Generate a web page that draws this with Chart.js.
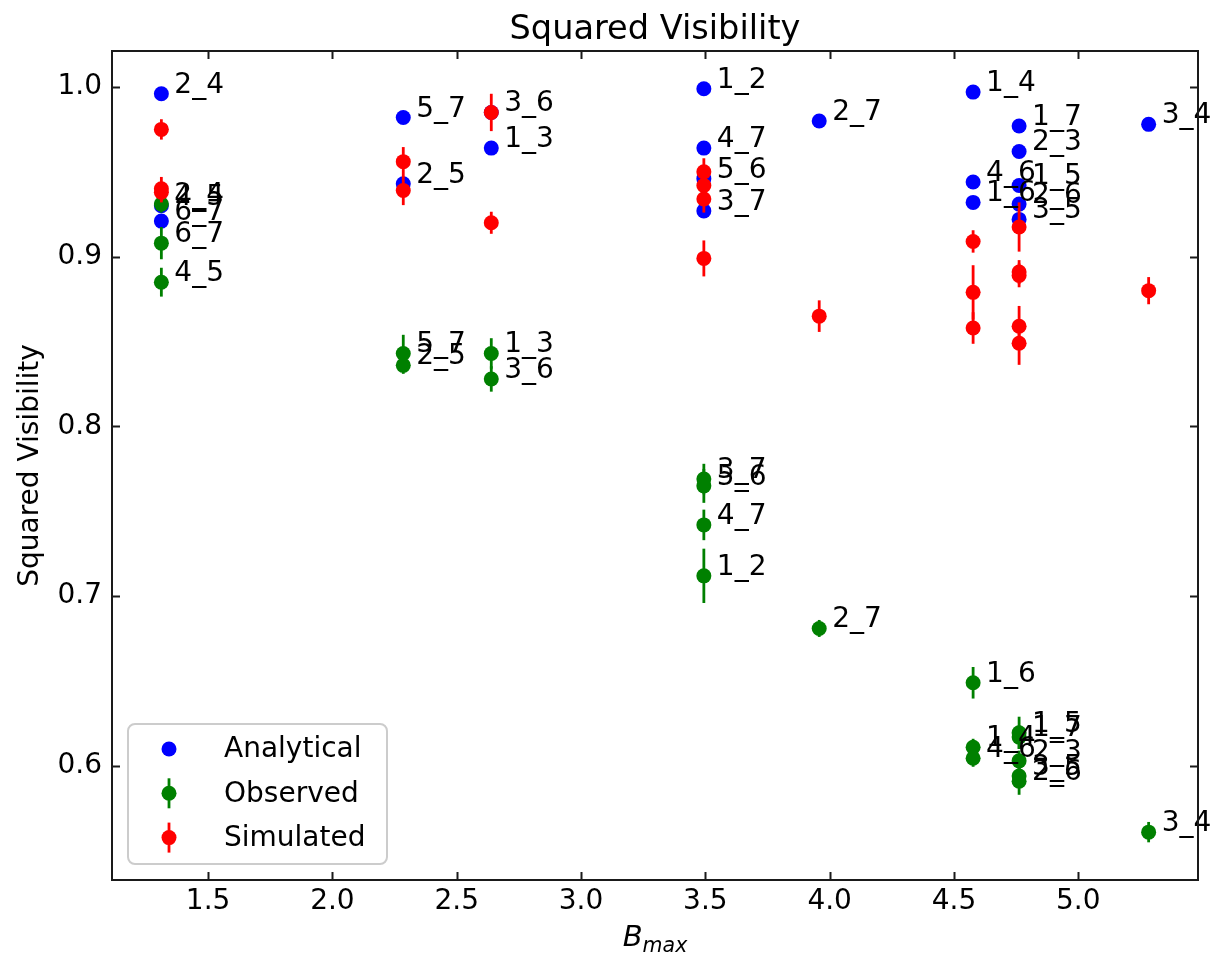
<!DOCTYPE html>
<html>
<head>
<meta charset="utf-8">
<title>Squared Visibility</title>
<script src="https://cdn.jsdelivr.net/npm/chart.js@4.4.1/dist/chart.umd.min.js"></script>
<style>
  html, body { margin: 0; padding: 0; background: #fff; }
  #wrap { width: 1216px; height: 957px; }
</style>
</head>
<body>
<div id="wrap"><canvas id="vis" width="1216" height="957"></canvas></div>
<script>
// one entry per baseline (telescope pair), grouped by B_max
const baselines    = ['2_4', '4_5', '6_7', '5_7', '2_5', '1_3', '3_6', '1_2', '4_7', '5_6', '3_7', '2_7', '1_4', '4_6', '1_6', '1_7', '2_3', '1_5', '2_6', '3_5', '3_4'];
const bmax         = [1.312, 1.312, 1.312, 2.285, 2.285, 2.639, 2.639, 3.494, 3.494, 3.494, 3.494, 3.958, 4.577, 4.577, 4.577, 4.762, 4.762, 4.762, 4.762, 4.762, 5.283];
const analytical   = [0.996, 0.930, 0.921, 0.982, 0.943, 0.964, 0.985, 0.999, 0.964, 0.946, 0.927, 0.980, 0.997, 0.944, 0.932, 0.977, 0.962, 0.942, 0.931, 0.922, 0.978];
const observed     = [0.931, 0.885, 0.908, 0.843, 0.836, 0.843, 0.828, 0.712, 0.742, 0.765, 0.769, 0.681, 0.611, 0.6045, 0.649, 0.617, 0.603, 0.6195, 0.591, 0.594, 0.561];
const observedErr  = [0.005, 0.0085, 0.0095, 0.011, 0.005, 0.009, 0.0075, 0.016, 0.009, 0.010, 0.009, 0.005, 0.005, 0.005, 0.0093, 0.007, 0.006, 0.0095, 0.008, 0.006, 0.006];
const simulated    = [0.975, 0.940, 0.938, 0.956, 0.939, 0.920, 0.985, 0.950, 0.942, 0.934, 0.899, 0.865, 0.909, 0.879, 0.858, 0.9175, 0.891, 0.889, 0.859, 0.849, 0.880];
const simulatedErr = [0.006, 0.007, 0.006, 0.0086, 0.0086, 0.0065, 0.011, 0.008, 0.007, 0.008, 0.0106, 0.0093, 0.0066, 0.016, 0.0093, 0.0145, 0.007, 0.007, 0.012, 0.0127, 0.008];

const xTicks = [1.5, 2.0, 2.5, 3.0, 3.5, 4.0, 4.5, 5.0];
const yTicks = [0.6, 0.7, 0.8, 0.9, 1.0];

const FONT = '"DejaVu Sans", Verdana, sans-serif';
const INK = '#1a1a1a';
const COLORS = { analytical: '#0000ff', observed: '#008000', simulated: '#ff0000' };

// axis limits padded by 5% of the data span, including error bars
function padded(lo, hi) {
  const m = (hi - lo) * 0.05;
  return [lo - m, hi + m];
}
const [xMin, xMax] = padded(Math.min(...bmax), Math.max(...bmax));
const allLow = observed.map((v, i) => v - observedErr[i]).concat(simulated.map((v, i) => v - simulatedErr[i]), analytical);
const allHigh = observed.map((v, i) => v + observedErr[i]).concat(simulated.map((v, i) => v + simulatedErr[i]), analytical);
const [yMin, yMax] = padded(Math.min(...allLow), Math.max(...allHigh));

function points(vals) {
  return bmax.map((b, i) => ({ x: b, y: vals[i] }));
}

const decor = {
  id: 'decor',
  // vertical error bars go under each series' own markers
  beforeDatasetDraw(chart, args) {
    const ds = chart.data.datasets[args.index];
    if (!ds.errors) return;
    const { x, y } = chart.scales;
    const ctx = chart.ctx;
    ctx.save();
    ctx.strokeStyle = ds.backgroundColor;
    ctx.lineWidth = 2.8;
    ds.data.forEach((p, i) => {
      const px = x.getPixelForValue(p.x);
      ctx.beginPath();
      ctx.moveTo(px, y.getPixelForValue(p.y - ds.errors[i]));
      ctx.lineTo(px, y.getPixelForValue(p.y + ds.errors[i]));
      ctx.stroke();
    });
    ctx.restore();
  },
  // baseline names beside the analytical and observed points
  afterDatasetsDraw(chart) {
    const { x, y } = chart.scales;
    const ctx = chart.ctx;
    ctx.save();
    ctx.font = '28px ' + FONT;
    ctx.fillStyle = '#000';
    ctx.textAlign = 'left';
    ctx.textBaseline = 'alphabetic';
    chart.data.datasets.forEach(ds => {
      if (!ds.named) return;
      ds.data.forEach((p, i) => {
        ctx.fillText(baselines[i], x.getPixelForValue(p.x) + 13, y.getPixelForValue(p.y) - 1);
      });
    });
    ctx.restore();
  },
  afterDraw(chart) {
    const { ctx, chartArea: a } = chart;
    const { x, y } = chart.scales;
    ctx.save();

    // frame + inward ticks on all four sides
    ctx.strokeStyle = INK;
    ctx.lineWidth = 2;
    ctx.strokeRect(a.left, a.top, a.right - a.left, a.bottom - a.top);
    ctx.beginPath();
    xTicks.forEach(v => {
      const px = Math.round(x.getPixelForValue(v)) + 0.5;
      ctx.moveTo(px, a.bottom); ctx.lineTo(px, a.bottom - 8);
      ctx.moveTo(px, a.top); ctx.lineTo(px, a.top + 8);
    });
    yTicks.forEach(v => {
      const py = Math.round(y.getPixelForValue(v)) + 0.5;
      ctx.moveTo(a.left, py); ctx.lineTo(a.left + 8, py);
      ctx.moveTo(a.right, py); ctx.lineTo(a.right - 8, py);
    });
    ctx.stroke();

    const cx = (a.left + a.right) / 2;

    // title
    ctx.fillStyle = '#000';
    ctx.textAlign = 'center';
    ctx.textBaseline = 'alphabetic';
    ctx.font = '33.6px ' + FONT;
    ctx.fillText('Squared Visibility', cx, 39);

    // x axis label: italic B with "max" subscript
    ctx.textAlign = 'left';
    ctx.font = 'italic 29px ' + FONT;
    const wB = ctx.measureText('B').width;
    ctx.font = 'italic 20.5px ' + FONT;
    const wSub = ctx.measureText('max').width;
    const x0 = cx - (wB + wSub) / 2;
    ctx.font = 'italic 29px ' + FONT;
    ctx.fillText('B', x0, 946);
    ctx.font = 'italic 20.5px ' + FONT;
    ctx.fillText('max', x0 + wB, 952);

    // legend box, lower left
    const lx = 128, ly = 724, lw = 259, lh = 140;
    ctx.beginPath();
    ctx.roundRect(lx, ly, lw, lh, 7);
    ctx.fillStyle = 'rgba(255,255,255,0.8)';
    ctx.fill();
    ctx.strokeStyle = '#cccccc';
    ctx.lineWidth = 2;
    ctx.stroke();

    ctx.font = '28px ' + FONT;
    ctx.textBaseline = 'middle';
    chart.data.datasets.forEach((ds, k) => {
      const ry = 749 + k * 44.3;
      const mx = 169;
      if (ds.errors) {
        ctx.strokeStyle = ds.backgroundColor;
        ctx.lineWidth = 2.8;
        ctx.beginPath();
        ctx.moveTo(mx, ry - 15); ctx.lineTo(mx, ry + 15);
        ctx.stroke();
      }
      ctx.fillStyle = ds.backgroundColor;
      ctx.beginPath();
      ctx.arc(mx, ry, 7.5, 0, Math.PI * 2);
      ctx.fill();
      ctx.fillStyle = '#000';
      ctx.fillText(ds.label, 224, ry + 1);
    });
    ctx.restore();
  }
};

const pointStyle = { pointRadius: 7.5, pointHoverRadius: 7.5, pointBorderWidth: 0, borderWidth: 0, showLine: false };

new Chart(document.getElementById('vis'), {
  type: 'scatter',
  data: {
    datasets: [
      Object.assign({ label: 'Analytical', data: points(analytical), backgroundColor: COLORS.analytical, order: 3, named: true }, pointStyle),
      Object.assign({ label: 'Observed', data: points(observed), errors: observedErr, backgroundColor: COLORS.observed, order: 2, named: true }, pointStyle),
      Object.assign({ label: 'Simulated', data: points(simulated), errors: simulatedErr, backgroundColor: COLORS.simulated, order: 1 }, pointStyle)
    ]
  },
  options: {
    responsive: false,
    animation: false,
    devicePixelRatio: 1,
    layout: { padding: { left: 0, right: 18, top: 51, bottom: 0 } },
    plugins: {
      legend: { display: false },
      tooltip: { enabled: false },
      title: { display: false }
    },
    scales: {
      x: {
        type: 'linear',
        min: xMin,
        max: xMax,
        grid: { display: false, drawTicks: false },
        border: { display: false },
        afterBuildTicks: s => { s.ticks = xTicks.map(v => ({ value: v })); },
        afterFit: s => { s.height = 77; },
        ticks: {
          padding: 5,
          color: '#000',
          autoSkip: false,
          maxRotation: 0,
          font: { family: FONT, size: 28 },
          callback: v => v.toFixed(1)
        }
      },
      y: {
        type: 'linear',
        min: yMin,
        max: yMax,
        grid: { display: false, drawTicks: false },
        border: { display: false },
        afterBuildTicks: s => { s.ticks = yTicks.map(v => ({ value: v })); },
        afterFit: s => { s.width = 112; },
        ticks: {
          padding: 10,
          color: '#000',
          autoSkip: false,
          font: { family: FONT, size: 28 },
          callback: v => v.toFixed(1)
        },
        title: {
          display: true,
          text: 'Squared Visibility',
          color: '#000',
          font: { family: FONT, size: 28 },
          padding: { top: 14, bottom: 0 }
        }
      }
    }
  },
  plugins: [decor]
});
</script>
</body>
</html>
